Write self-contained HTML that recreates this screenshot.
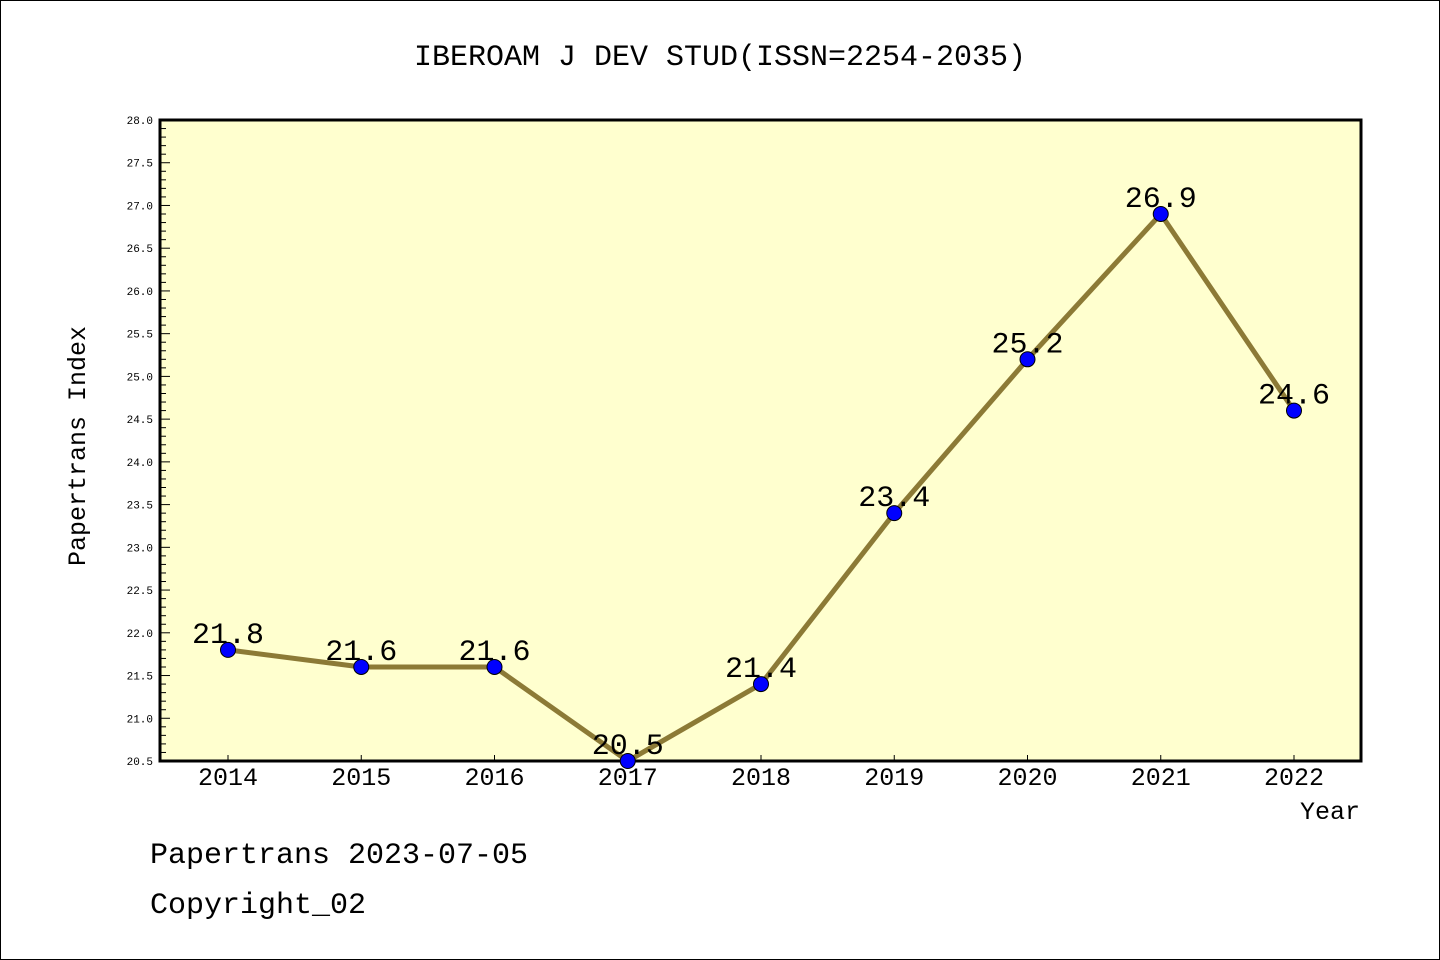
<!DOCTYPE html>
<html><head><meta charset="utf-8"><style>
html,body{margin:0;padding:0;background:#fff}
#wrap{position:relative;width:1440px;height:960px;overflow:hidden}
svg{display:block}
svg text{font-family:"Liberation Mono","DejaVu Sans Mono",monospace}
</style></head><body>
<div id="wrap">
<svg id="c" width="1440" height="960"></svg>
</div>
<script>
const years=[2014,2015,2016,2017,2018,2019,2020,2021,2022];
const values=[21.8,21.6,21.6,20.5,21.4,23.4,25.2,26.9,24.6];
const valueLabels=["21.8","21.6","21.6","20.5","21.4","23.4","25.2","26.9","24.6"];
const yTicks=[20.5,21.0,21.5,22.0,22.5,23.0,23.5,24.0,24.5,25.0,25.5,26.0,26.5,27.0,27.5,28.0];
const yMin=20.5,yMax=28.0;
const L=160,R=1361,T=120,B=761;
const X0=228,XS=133.25;
function x(v){return X0+(v-years[0])*XS;}
function y(v){return B-(v-yMin)/(yMax-yMin)*(B-T);}
const NS="http://www.w3.org/2000/svg";
const svg=document.getElementById('c');
function mk(tag,attrs,parent){const e=document.createElementNS(NS,tag);for(const k in attrs)e.setAttribute(k,attrs[k]);(parent||svg).appendChild(e);return e;}
let e;
e=mk('rect',{x:0.5,y:0.5,width:1439,height:959,fill:'#fff',stroke:'#000','stroke-width':1});


e=mk('rect',{x:L,y:T,width:R-L,height:B-T,fill:'#ffffcf'});


e=mk('text',{x:720,y:65,'text-anchor':'middle','font-size':30});e.textContent='IBEROAM J DEV STUD(ISSN=2254-2035)';


for(let v=yMin;v<=yMax+1e-6;v+=0.1){
  const major=Math.abs(v*2-Math.round(v*2))<1e-6;
  e=mk('line',{x1:L,x2:L+(major?10:6),y1:y(v),y2:y(v),stroke:'#000','stroke-width':1});
  
  
}
yTicks.forEach(v=>{
  e=mk('text',{x:L-7,y:y(v)+4,'text-anchor':'end','font-size':11,'font-family':'Liberation Sans, sans-serif'});e.textContent=v.toFixed(1);
  
  
});
years.forEach(v=>{
  e=mk('line',{x1:x(v),x2:x(v),y1:B,y2:B-6,stroke:'#000','stroke-width':1});
  
  
  e=mk('text',{x:x(v),y:B+24,'text-anchor':'middle','font-size':25,'font-family':'Liberation Sans, sans-serif'});e.textContent=String(v);
  
  
});
e=mk('rect',{x:L,y:T,width:R-L,height:B-T,fill:'none',stroke:'#000','stroke-width':3});


e=mk('polyline',{points:years.map((v,i)=>x(v)+','+y(values[i])).join(' '),fill:'none',stroke:'#8c7a36','stroke-width':5,'stroke-linejoin':'round'});


years.forEach((v,i)=>{
  e=mk('circle',{cx:x(v),cy:y(values[i]),r:7.5,fill:'#0000ff',stroke:'#000','stroke-width':1});
  
  
  e=mk('text',{x:x(v),y:y(values[i])-7,'text-anchor':'middle','font-size':30});e.textContent=valueLabels[i];
  
  
});
e=mk('text',{x:85,y:446,'text-anchor':'middle','font-size':25,transform:'rotate(-90 85 446)'});e.textContent='Papertrans Index';


e=mk('text',{x:1360,y:819,'text-anchor':'end','font-size':25});e.textContent='Year';


e=mk('text',{x:150,y:863,'font-size':30});e.textContent='Papertrans 2023-07-05';


e=mk('text',{x:150,y:913,'font-size':30});e.textContent='Copyright_02';


</script>
</body></html>
